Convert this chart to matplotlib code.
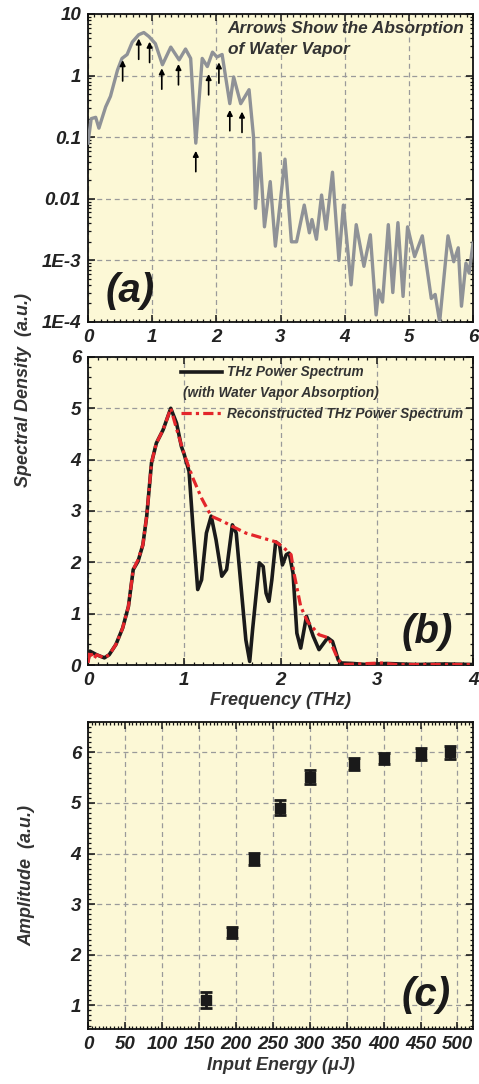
import matplotlib
matplotlib.use('Agg')
import matplotlib.pyplot as plt
from matplotlib.ticker import MultipleLocator, LogLocator, NullFormatter

plt.rcParams['font.family'] = 'Liberation Sans'
plt.rcParams['font.weight'] = 'bold'
plt.rcParams['font.style'] = 'italic'
plt.rcParams['axes.labelweight'] = 'bold'

BG = '#fcf8d6'
GRID = '#9a9a9a'
TXT = '#222222'
LBL = '#333333'

#%% data, panel (a): log spectrum
a_freq = [0, 0.05, 0.12, 0.17, 0.275, 0.35, 0.46, 0.53, 0.61, 0.69, 0.79, 0.87, 0.95,
          1.05, 1.16, 1.29, 1.42, 1.52, 1.60, 1.68, 1.78, 1.86, 1.94, 2.01, 2.09, 2.21,
          2.27, 2.38, 2.51, 2.58, 2.61, 2.68, 2.75, 2.84, 2.92, 3.07, 3.17, 3.25, 3.37,
          3.45, 3.49, 3.56, 3.64, 3.71, 3.81, 3.91, 3.98, 4.10, 4.18, 4.30, 4.40, 4.49,
          4.53, 4.59, 4.68, 4.75, 4.83, 4.91, 4.98, 5.09, 5.21, 5.35, 5.41, 5.48, 5.61,
          5.70, 5.77, 5.82, 5.89, 5.94, 6.0]
a_spec = [0.08, 0.2, 0.21, 0.14, 0.31, 0.46, 1.23, 1.9, 2.2, 3.5, 4.6, 5.0, 4.3,
          3.3, 1.5, 2.9, 1.8, 2.7, 1.9, 0.08, 1.9, 1.4, 2.4, 2.0, 2.2, 0.35,
          0.95, 0.35, 0.59, 0.1, 0.007, 0.055, 0.0035, 0.019, 0.0017, 0.044, 0.002, 0.002, 0.0079,
          0.0028, 0.0046, 0.0022, 0.0115, 0.0032, 0.027, 0.001, 0.0079, 0.0004, 0.0038, 0.0008, 0.0026, 0.00013,
          0.00033, 0.00021, 0.0038, 0.0003, 0.0041, 0.00026, 0.0035, 0.00115, 0.0025, 0.00024, 0.00028, 0.0001, 0.0025,
          0.00095, 0.0016, 0.00018, 0.0009, 0.00062, 0.0019]

# water vapor absorption arrows (arrow tip positions)
arrow_x = [0.54, 0.79, 0.96, 1.15, 1.41, 1.68, 1.88, 2.04, 2.21, 2.40]
arrow_tip = [1.78, 4.0, 3.55, 1.31, 1.54, 0.060, 1.06, 1.64, 0.277, 0.26]

a_yticks = [1e-4, 1e-3, 1e-2, 1e-1, 1, 10]
a_ylabels = ['1E-4', '1E-3', '0.01', '0.1', '1', '10']

#%% data, panel (b): linear spectrum
b_freq = [0, 0.02, 0.09, 0.17, 0.22, 0.29, 0.36, 0.42, 0.47, 0.52,
          0.57, 0.61, 0.66, 0.71, 0.78, 0.86, 0.92, 0.97, 1.0, 1.05,
          1.09, 1.14, 1.18, 1.23, 1.28, 1.33, 1.39, 1.44, 1.50, 1.54,
          1.59, 1.64, 1.68, 1.71, 1.78, 1.82, 1.85, 1.88, 1.91, 1.95,
          1.99, 2.02, 2.06, 2.09, 2.13, 2.17, 2.21, 2.27, 2.34, 2.40,
          2.49, 2.54, 2.60, 2.63, 2.75, 2.89, 3.1, 3.4, 3.7, 4.0]
b_meas = [0.10, 0.27, 0.2, 0.14, 0.2, 0.4, 0.72, 1.14, 1.86, 2.02,
          2.34, 2.9, 3.94, 4.32, 4.58, 5.0, 4.71, 4.26, 4.1, 3.77,
          2.7, 1.47, 1.66, 2.57, 2.9, 2.44, 1.73, 1.86, 2.73, 2.57,
          1.53, 0.49, 0.07, 0.69, 1.99, 1.92, 1.40, 1.24, 1.66, 2.40,
          2.34, 1.95, 2.15, 2.18, 1.79, 0.62, 0.33, 0.95, 0.56, 0.30,
          0.53, 0.46, 0.10, 0.04, 0.03, 0.01, 0.03, 0.01, 0.02, 0.01]

r_freq = [0, 0.02, 0.06, 0.09, 0.17, 0.22, 0.29, 0.36, 0.42, 0.47,
          0.52, 0.57, 0.61, 0.66, 0.71, 0.78, 0.86, 0.92, 1.0, 1.09,
          1.18, 1.28, 1.40, 1.50, 1.64, 1.82, 1.95, 2.02, 2.11, 2.14,
          2.21, 2.28, 2.40, 2.50, 2.60, 2.65, 3.05, 3.2, 3.6, 4.0]
r_spec = [0.04, 0.27, 0.12, 0.2, 0.14, 0.2, 0.4, 0.72, 1.14, 1.86,
          2.05, 2.34, 2.9, 3.94, 4.32, 4.58, 5.0, 4.6, 4.1, 3.64,
          3.25, 2.9, 2.8, 2.70, 2.57, 2.47, 2.40, 2.31, 2.15, 1.79,
          1.14, 0.85, 0.59, 0.53, 0.10, 0.01, 0.04, 0.01, 0.01, 0.01]

#%% data, panel (c): amplitude vs input energy
energy = [160, 195, 225, 260, 300, 360, 400, 450, 490]
amp = [1.10, 2.44, 3.90, 4.91, 5.52, 5.77, 5.88, 5.97, 6.00]
amp_err = [0.16, 0.11, 0.12, 0.15, 0.14, 0.12, 0.11, 0.12, 0.13]


def style(ax):
    ax.set_facecolor(BG)
    for s in ax.spines.values():
        s.set_linewidth(1.3)
        s.set_color('#111111')
    ax.grid(True, which='major', color=GRID, linestyle=(0, (4, 3)), linewidth=0.9)
    ax.tick_params(which='both', direction='in', top=True, right=True,
                   colors='#111111', labelcolor=TXT, labelsize=13.5, pad=5)
    ax.tick_params(which='major', length=5, width=1.1)
    ax.tick_params(which='minor', length=2.5, width=0.9)
    for lab in ax.get_xticklabels() + ax.get_yticklabels():
        lab.set_fontweight('bold')
        lab.set_fontstyle('italic')


fig = plt.figure(figsize=(4.79, 10.84), dpi=100)
L, R = 0.1837, 0.9875

#%% panel (a)
ax1 = fig.add_axes([L, 0.7030, R - L, 0.9871 - 0.7030])
ax1.set_yscale('log')
ax1.plot(a_freq, a_spec, color='#8f9297', lw=2.4, solid_joinstyle='round', zorder=3)
for xa, ya in zip(arrow_x, arrow_tip):
    ax1.annotate('', xy=(xa, ya), xytext=(0, -15), textcoords='offset points',
                 arrowprops=dict(arrowstyle='-|>', color='black', lw=1.2,
                                 mutation_scale=8, shrinkA=0, shrinkB=0), zorder=4)
ax1.set_xlim(0, 6)
ax1.set_ylim(1e-4, 10)
ax1.set_xticks(range(7))
ax1.xaxis.set_minor_locator(MultipleLocator(0.1))
ax1.set_yticks(a_yticks)
ax1.set_yticklabels(a_ylabels)
ax1.yaxis.set_minor_locator(LogLocator(base=10, subs=range(2, 10), numticks=20))
ax1.yaxis.set_minor_formatter(NullFormatter())
style(ax1)
ax1.text(0.363, 0.978, 'Arrows Show the Absorption\nof Water Vapor', transform=ax1.transAxes,
         ha='left', va='top', fontsize=12.4, color=LBL, linespacing=1.55)
ax1.text(0.045, 0.04, '(a)', transform=ax1.transAxes, fontsize=29, color='#1a1a1a',
         ha='left', va='bottom')

#%% panel (b)
ax2 = fig.add_axes([L, 0.3865, R - L, 0.6707 - 0.3865])
ax2.plot(b_freq, b_meas, color='#1a1a1a', lw=2.6, solid_joinstyle='round', zorder=3,
         label='THz Power Spectrum')
ax2.plot(r_freq, r_spec, color='#e3262b', lw=2.3, dashes=(3.2, 1.3, 1.0, 1.3), zorder=4,
         label='Reconstructed THz Power Spectrum')
ax2.set_xlim(0, 4)
ax2.set_ylim(0, 6)
ax2.set_xticks(range(5))
ax2.set_yticks(range(7))
ax2.xaxis.set_minor_locator(MultipleLocator(0.1))
ax2.yaxis.set_minor_locator(MultipleLocator(0.2))
style(ax2)
ax2.set_xlabel('Frequency (THz)', fontsize=13, color=LBL, labelpad=2)
leg = ax2.legend(loc='upper left', bbox_to_anchor=(0.228, 0.99), frameon=False,
                 fontsize=9.8, handlelength=3.0, handletextpad=0.35, labelspacing=2.0,
                 borderaxespad=0)
for t in leg.get_texts():
    t.set_color(LBL)
ax2.text(0.246, 0.883, '(with Water Vapor Absorption)', transform=ax2.transAxes,
         ha='left', va='center', fontsize=9.8, color=LBL)
ax2.text(0.815, 0.045, '(b)', transform=ax2.transAxes, fontsize=29, color='#1a1a1a',
         ha='left', va='bottom')

fig.text(24 / 479, 0.640, 'Spectral Density  (a.u.)', rotation=90, ha='center', va='center',
         fontsize=13, color=LBL)

#%% panel (c)
ax3 = fig.add_axes([L, 0.0507, R - L, 0.3339 - 0.0507])
ax3.errorbar(energy, amp, yerr=amp_err, fmt='s', color='#1a1a1a', ms=6.5,
             capsize=4.5, capthick=2, elinewidth=2, zorder=3)
ax3.set_xlim(0, 521)
ax3.set_ylim(0.53, 6.6)
ax3.set_xticks(range(0, 501, 50))
ax3.set_yticks(range(1, 7))
ax3.xaxis.set_minor_locator(MultipleLocator(5))
ax3.yaxis.set_minor_locator(MultipleLocator(0.1))
style(ax3)
ax3.set_xlabel('Input Energy (\u03bcJ)', fontsize=13, color=LBL, labelpad=3)
ax3.set_ylabel('Amplitude  (a.u.)', fontsize=13, color=LBL)
ax3.yaxis.set_label_coords(-0.137, 0.5)
ax3.text(0.815, 0.05, '(c)', transform=ax3.transAxes, fontsize=29, color='#1a1a1a',
         ha='left', va='bottom')

plt.savefig('out.png', dpi=100)
